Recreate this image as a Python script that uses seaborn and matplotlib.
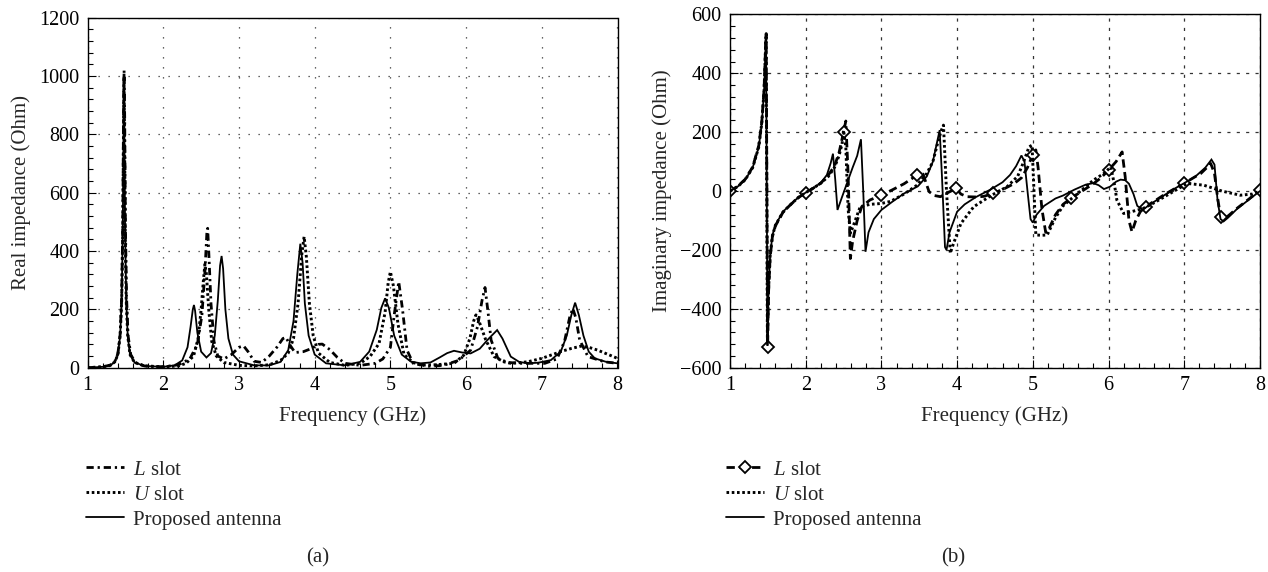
import numpy as np
import pandas as pd
import matplotlib
matplotlib.use("Agg")
import matplotlib.pyplot as plt
from matplotlib.ticker import MultipleLocator
import seaborn as sns

# ---------------- data ----------------
# (a) Real impedance
prop_re_f = [1.00, 1.20, 1.30, 1.36, 1.40, 1.43, 1.45, 1.465, 1.475, 1.48, 1.485, 1.495, 1.51, 1.53, 1.56, 1.62, 1.75,
             2.00, 2.15, 2.25, 2.32, 2.36, 2.39, 2.405, 2.42, 2.45, 2.50, 2.57, 2.63, 2.68, 2.72, 2.75, 2.77, 2.79, 2.82,
             2.86, 2.92, 3.00, 3.20, 3.40, 3.55, 3.65, 3.72, 3.77, 3.81, 3.84, 3.87, 3.92, 4.00, 4.15, 4.40, 4.60, 4.72,
             4.82, 4.88, 4.93, 4.98, 5.05, 5.15, 5.27, 5.40, 5.53, 5.65, 5.75, 5.84, 5.95, 6.06, 6.18, 6.30, 6.41, 6.48,
             6.59, 6.70, 6.81, 6.95, 7.12, 7.25, 7.33, 7.39, 7.44, 7.49, 7.55, 7.62, 7.70, 7.85, 8.00]
prop_re_v = [0, 3, 8, 20, 45, 110, 230, 480, 850, 1000, 850, 480, 230, 110, 45, 18, 6,
             3, 8, 25, 70, 140, 200, 215, 195, 120, 55, 35, 50, 110, 230, 350, 383, 340, 200,
             100, 45, 22, 8, 8, 20, 60, 160, 320, 425, 360, 220, 110, 45, 15, 8, 20, 55,
             130, 205, 238, 205, 110, 45, 21, 15, 18, 35, 50, 58, 52, 49, 65, 100, 129, 100,
             38, 20, 15, 17, 26, 55, 110, 180, 223, 180, 110, 55, 32, 20, 15]

lslot_re_f = [1.00, 1.20, 1.30, 1.36, 1.40, 1.43, 1.45, 1.465, 1.475, 1.482, 1.49, 1.50, 1.515, 1.535, 1.57, 1.63, 1.75,
              2.00, 2.20, 2.35, 2.45, 2.51, 2.55, 2.575, 2.586, 2.60, 2.63, 2.67, 2.72, 2.80, 2.90, 3.00, 3.06, 3.12,
              3.20, 3.30, 3.40, 3.50, 3.58, 3.62, 3.68, 3.74, 3.85, 3.95, 4.05, 4.10, 4.20, 4.30, 4.40, 4.60, 4.80,
              4.90, 5.00, 5.05, 5.11, 5.16, 5.22, 5.30, 5.50, 5.70, 5.90, 6.06, 6.15, 6.21, 6.25, 6.29, 6.33, 6.42,
              6.55, 6.73, 7.04, 7.20, 7.30, 7.37, 7.41, 7.45, 7.50, 7.61, 7.83, 8.00]
lslot_re_v = [0, 3, 9, 22, 48, 115, 240, 500, 880, 1020, 860, 480, 240, 110, 45, 18, 6,
              3, 10, 30, 80, 180, 330, 460, 478, 400, 220, 90, 40, 30, 45, 70, 75, 55,
              22, 18, 40, 70, 100, 104, 75, 52, 55, 65, 80, 81, 62, 35, 15, 8, 15,
              30, 70, 180, 295, 200, 60, 15, 5, 8, 25, 60, 140, 230, 275, 190, 95, 32,
              18, 15, 15, 30, 90, 175, 203, 170, 95, 38, 20, 15]

uslot_re_f = [1.00, 1.20, 1.30, 1.36, 1.40, 1.43, 1.45, 1.465, 1.475, 1.48, 1.487, 1.497, 1.51, 1.53, 1.56, 1.62, 1.75,
              2.00, 2.20, 2.30, 2.40, 2.46, 2.50, 2.53, 2.55, 2.57, 2.60, 2.64, 2.70, 2.80, 3.00, 3.20, 3.40, 3.55,
              3.65, 3.72, 3.78, 3.83, 3.86, 3.89, 3.93, 3.98, 4.05, 4.20, 4.40, 4.60, 4.73, 4.85, 4.93, 4.97, 5.00,
              5.04, 5.10, 5.18, 5.30, 5.40, 5.60, 5.84, 5.97, 6.05, 6.10, 6.13, 6.17, 6.26, 6.37, 6.50, 6.59, 6.81,
              7.00, 7.12, 7.26, 7.39, 7.52, 7.62, 7.74, 7.88, 8.00]
uslot_re_v = [0, 3, 8, 20, 45, 110, 230, 470, 830, 990, 820, 470, 230, 110, 45, 18, 6,
              3, 6, 15, 40, 100, 200, 300, 355, 320, 200, 90, 40, 18, 8, 6, 10, 25,
              50, 100, 220, 390, 449, 380, 220, 110, 50, 18, 8, 15, 38, 83, 190, 290, 329,
              280, 150, 45, 18, 9, 10, 15, 43, 100, 160, 181, 160, 95, 38, 20, 15, 20,
              32, 43, 56, 66, 74, 70, 60, 45, 32]

# (b) Imaginary impedance
prop_im_f = [1.00, 1.10, 1.20, 1.30, 1.38, 1.42, 1.45, 1.465, 1.476, 1.495, 1.51, 1.53, 1.56, 1.60, 1.70, 1.80, 1.90,
             2.00, 2.10, 2.20, 2.28, 2.33, 2.36, 2.39, 2.42, 2.48, 2.55, 2.62, 2.68, 2.73, 2.76, 2.79, 2.83, 2.90,
             3.00, 3.15, 3.30, 3.48, 3.60, 3.68, 3.73, 3.77, 3.80, 3.84, 3.86, 3.90, 4.00, 4.10, 4.25, 4.44, 4.60,
             4.70, 4.78, 4.85, 4.89, 4.93, 4.97, 5.00, 5.05, 5.15, 5.30, 5.40, 5.55, 5.70, 5.80, 5.87, 5.94, 6.02,
             6.10, 6.16, 6.22, 6.27, 6.33, 6.38, 6.45, 6.55, 6.70, 6.85, 7.00, 7.15, 7.28, 7.36, 7.40, 7.44, 7.48,
             7.52, 7.58, 7.70, 7.85, 8.00]
prop_im_v = [0, 15, 38, 80, 150, 230, 340, 450, 535, -525, -330, -220, -150, -115, -70, -45, -22,
             -5, 10, 28, 55, 95, 127, 40, -64, -20, 30, 80, 120, 176, 0, -206, -140, -95,
             -64, -35, -8, 16, 50, 100, 160, 207, 50, -190, -200, -140, -70, -45, -20, 5, 30,
             55, 85, 121, 100, 0, -95, -107, -80, -50, -25, -15, 5, 22, 27, 20, 7, 15,
             32, 39, 37, 25, -10, -50, -64, -45, -20, 5, 27, 50, 80, 107, 90, -30, -95,
             -103, -90, -60, -30, 0]

lslot_im_f = [1.00, 1.10, 1.20, 1.30, 1.38, 1.42, 1.45, 1.465, 1.478, 1.497, 1.51, 1.53, 1.56, 1.60, 1.70, 1.80, 1.90,
              2.00, 2.10, 2.20, 2.30, 2.38, 2.44, 2.50, 2.53, 2.56, 2.59, 2.62, 2.68, 2.74, 2.85, 3.00, 3.15, 3.30,
              3.47, 3.55, 3.60, 3.63, 3.70, 3.78, 3.88, 3.99, 4.05, 4.13, 4.25, 4.35, 4.48, 4.60, 4.75, 4.85, 4.93,
              5.00, 5.04, 5.07, 5.12, 5.17, 5.20, 5.30, 5.40, 5.50, 5.65, 5.80, 5.90, 6.00, 6.10, 6.18, 6.22, 6.27,
              6.31, 6.36, 6.42, 6.49, 6.60, 6.75, 6.90, 7.00, 7.12, 7.22, 7.30, 7.35, 7.40, 7.44, 7.48, 7.53, 7.60,
              7.70, 7.85, 8.00]
lslot_im_v = [0, 16, 40, 82, 155, 235, 345, 455, 535, -530, -340, -225, -155, -118, -72, -46, -23,
              -5, 10, 27, 55, 85, 130, 200, 238, 60, -229, -170, -100, -53, -30, -14, 5, 25,
              54, 58, 20, -2, -15, -19, -5, 9, -10, -19, -20, -18, -8, 5, 25, 45, 80,
              124, 140, 80, -60, -140, -135, -80, -45, -25, 0, 25, 45, 71, 100, 133, 50, -100,
              -138, -100, -70, -53, -35, -10, 12, 26, 45, 60, 80, 94, 60, -20, -87, -95, -80,
              -58, -28, 3]

uslot_im_f = [1.00, 1.10, 1.20, 1.30, 1.38, 1.42, 1.45, 1.465, 1.477, 1.494, 1.51, 1.53, 1.56, 1.60, 1.70, 1.80, 1.90,
              2.00, 2.10, 2.20, 2.30, 2.38, 2.44, 2.48, 2.50, 2.53, 2.56, 2.59, 2.64, 2.72, 2.85, 3.00, 3.12, 3.30,
              3.47, 3.60, 3.68, 3.74, 3.79, 3.82, 3.86, 3.91, 3.95, 4.05, 4.22, 4.45, 4.66, 4.80, 4.88, 4.95, 4.99,
              5.04, 5.12, 5.19, 5.30, 5.40, 5.54, 5.70, 5.80, 5.94, 6.03, 6.08, 6.11, 6.20, 6.30, 6.45, 6.60, 6.80,
              7.04, 7.26, 7.50, 7.74, 7.90, 8.00]
uslot_im_v = [0, 15, 38, 80, 150, 232, 342, 452, 530, -500, -330, -222, -152, -116, -71, -46, -22,
              -5, 10, 27, 50, 80, 120, 160, 207, 150, -60, -143, -110, -53, -45, -42, -35, -10,
              20, 60, 100, 160, 205, 224, 0, -211, -180, -110, -53, -15, 15, 50, 100, 150, 156,
              -149, -150, -149, -90, -50, -19, 15, 37, 60, 82, 20, -30, -76, -70, -60, -40, -10,
              26, 20, 0, -14, -10, 0]

marker_freqs = [1.0, 1.5, 2.0, 2.5, 3.0, 3.5, 4.0, 4.5, 5.0, 5.5, 6.0, 6.5, 7.0, 7.5, 8.0]

series_labels = ["$L$ slot", "$U$ slot", "Proposed antenna"]
xticks = [1, 2, 3, 4, 5, 6, 7, 8]
re_yticks = [0, 200, 400, 600, 800, 1000, 1200]
im_yticks = [-600, -400, -200, 0, 200, 400, 600]

# ---------------- style ----------------
sns.set_style("ticks")
plt.rcParams["font.family"] = ["Liberation Serif", "DejaVu Serif"]
plt.rcParams["mathtext.fontset"] = "custom"
plt.rcParams["mathtext.it"] = "Liberation Serif:italic"
plt.rcParams["mathtext.rm"] = "Liberation Serif"
FS = 15
TFS = 14.5

W, H = 1268, 572
fig = plt.figure(figsize=(W / 100, H / 100), dpi=100)
ax1 = fig.add_axes([87.6 / W, 1 - 367.7 / H, 529.9 / W, 350 / H])
ax2 = fig.add_axes([730 / W, 1 - 367.8 / H, 529.9 / W, 353.4 / H])

L_DASHDOT = (0, (2.6, 1.4, 0.8, 1.4))
L_DASH = (0, (3.0, 1.6))
U_DOT = (0, (0.9, 0.9))


def draw(ax, f, v, lw, ls):
    df = pd.DataFrame({"f": f, "v": v})
    sns.lineplot(data=df, x="f", y="v", ax=ax, color="black", linewidth=lw,
                 estimator=None, sort=False, errorbar=None)
    line = ax.lines[-1]
    line.set_linestyle(ls)
    line.set_solid_joinstyle("miter")
    return line


# (a)
la = draw(ax1, lslot_re_f, lslot_re_v, 2.0, L_DASHDOT)
ua = draw(ax1, uslot_re_f, uslot_re_v, 2.1, U_DOT)
pa = draw(ax1, prop_re_f, prop_re_v, 1.3, "-")

# (b)
lb = draw(ax2, lslot_im_f, lslot_im_v, 2.0, L_DASH)
idx = [int(np.argmin(np.abs(np.array(lslot_im_f) - m))) for m in marker_freqs]
lb.set_marker("D")
lb.set_markevery(idx)
lb.set_markersize(6)
lb.set_markerfacecolor("white")
lb.set_markeredgecolor("black")
lb.set_markeredgewidth(1.3)
ub = draw(ax2, uslot_im_f, uslot_im_v, 2.1, U_DOT)
pb = draw(ax2, prop_im_f, prop_im_v, 1.3, "-")

for ax, yt, ylab, gls in [(ax1, re_yticks, "Real impedance (Ohm)", (0, (1, 7))),
                          (ax2, im_yticks, "Imaginary impedance (Ohm)", (0, (2.5, 5)))]:
    ax.set_xlim(1, 8)
    ax.set_ylim(yt[0], yt[-1])
    ax.set_xticks(xticks)
    ax.set_yticks(yt)
    ax.xaxis.set_minor_locator(MultipleLocator(0.2))
    ax.yaxis.set_minor_locator(MultipleLocator(40))
    ax.tick_params(which="both", direction="in", top=False, right=False, labelsize=TFS, colors="black")
    ax.tick_params(which="major", length=6, width=0.8, pad=6)
    ax.tick_params(which="minor", length=3.5, width=0.8)
    ax.grid(True, which="major", linestyle=gls, color="#333333", linewidth=0.9)
    ax.set_axisbelow(True)
    for s in ax.spines.values():
        s.set_visible(True)
        s.set_linewidth(1.0)
        s.set_color("black")
    ax.set_xlabel("Frequency (GHz)", fontsize=FS, labelpad=8)
    ax.set_ylabel(ylab, fontsize=FS, labelpad=6)

# legends below each panel
for ax, handles, x0 in [(ax1, [la, ua, pa], 86), (ax2, [lb, ub, pb], 726)]:
    leg = ax.legend(handles, series_labels, loc="upper left",
                    bbox_to_anchor=(x0 / W, 1 - 460 / H), bbox_transform=fig.transFigure,
                    frameon=False, fontsize=FS, handlelength=1.8, handletextpad=0.45,
                    labelspacing=0.26, borderpad=0, borderaxespad=0, numpoints=1)

fig.text(318 / W, 1 - 558 / H, "(a)", ha="center", va="center", fontsize=FS)
fig.text(953 / W, 1 - 558 / H, "(b)", ha="center", va="center", fontsize=FS)

fig.savefig("out.png", dpi=100)
